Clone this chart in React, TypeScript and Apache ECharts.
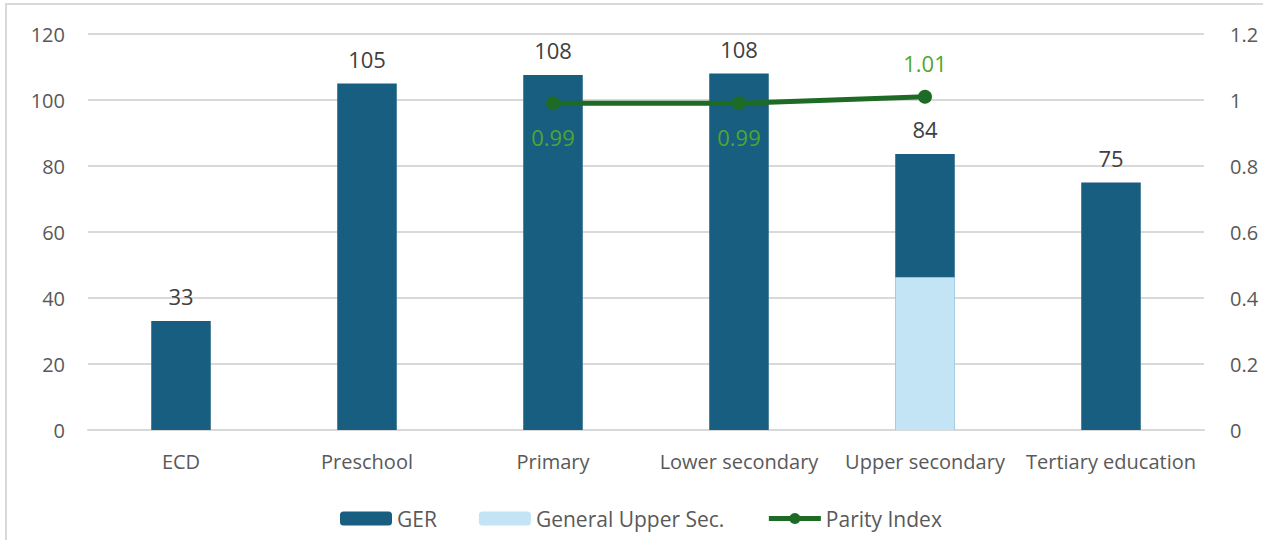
import React, { useEffect, useRef } from "react";
import * as echarts from "echarts";

const categories = ["ECD", "Preschool", "Primary", "Lower secondary", "Upper secondary", "Tertiary education"];
const gerValues = [33, 105, 107.6, 108, 83.6, 75];
const generalUpperSec = [null, null, null, null, 46.3, null];
const parityIndex = [null, null, 0.99, 0.99, 1.01, null];
const parityLabelPos = ["bottom", "bottom", "bottom", "bottom", "top", "bottom"];
const leftTicks = { min: 0, max: 120, interval: 20 };
const rightTicks = { min: 0, max: 1.2, interval: 0.2 };

const FONT = "'Open Sans', 'Liberation Sans', Arial, sans-serif";

export default function App() {
  const ref = useRef<HTMLDivElement>(null);
  useEffect(() => {
    document.body.style.margin = "0";
    const chart = echarts.init(ref.current!, null, { renderer: "svg" });
    chart.setOption({
      animation: false,
      backgroundColor: "#ffffff",
      textStyle: { fontFamily: FONT },
      grid: { left: 81, right: 63, top: 29, bottom: 110 },
      legend: {
        bottom: 6,
        left: 328,
        itemWidth: 52,
        itemHeight: 14,
        itemGap: 42,
        textStyle: { fontSize: 21, color: "#595959", fontFamily: FONT },
        data: [
          { name: "GER" },
          { name: "General Upper Sec." },
          { name: "Parity Index", lineStyle: { width: 5, color: "#1e6b25" }, itemStyle: { color: "#1e6b25" } },
        ],
      },
      xAxis: {
        type: "category",
        data: categories,
        axisLine: { lineStyle: { color: "#d9d9d9", width: 2 } },
        axisTick: { show: false },
        axisLabel: { color: "#595959", fontSize: 20, margin: 21, interval: 0 },
      },
      yAxis: [
        {
          type: "value",
          ...leftTicks,
          axisLine: { show: false },
          axisTick: { show: false },
          splitLine: { lineStyle: { color: "#d9d9d9", width: 2 } },
          axisLabel: { color: "#595959", fontSize: 20, margin: 23 },
        },
        {
          type: "value",
          ...rightTicks,
          axisLine: { show: false },
          axisTick: { show: false },
          splitLine: { show: false },
          axisLabel: {
            color: "#595959",
            fontSize: 20,
            margin: 26,
            formatter: (v: number) => String(Math.round(v * 10) / 10),
          },
        },
      ],
      series: [
        {
          name: "GER",
          type: "bar",
          data: gerValues,
          barWidth: "32%",
          barGap: "-100%",
          itemStyle: { color: "#175e80" },
          label: {
            show: true,
            position: "top",
            distance: 14,
            color: "#404040",
            fontSize: 22,
            formatter: (p: any) => String(Math.round(p.value)),
          },
          z: 2,
        },
        {
          name: "General Upper Sec.",
          type: "bar",
          data: generalUpperSec,
          barWidth: "32%",
          itemStyle: { color: "#c2e4f5" },
          z: 3,
        },
        {
          name: "Parity Index",
          type: "line",
          yAxisIndex: 1,
          data: parityIndex.map((v, i) => ({
            value: v,
            label: { position: parityLabelPos[i] },
          })),
          symbol: "circle",
          symbolSize: 14,
          lineStyle: { color: "#1e6b25", width: 5 },
          itemStyle: { color: "#1e6b25" },
          label: { show: true, distance: 16, color: "#4ea72e", fontSize: 22 },
          z: 5,
        },
      ],
    });
    return () => chart.dispose();
  }, []);
  return (
    <div style={{ position: "relative", width: 1267, height: 540, background: "#fff" }}>
      <div
        style={{
          position: "absolute",
          left: 5,
          top: 3,
          width: 1258,
          height: 537,
          borderLeft: "2px solid #d9d9d9",
          borderTop: "2px solid #d9d9d9",
          boxSizing: "border-box",
        }}
      />
      <div ref={ref} style={{ position: "absolute", left: 7, top: 5, width: 1260, height: 535 }} />
    </div>
  );
}
